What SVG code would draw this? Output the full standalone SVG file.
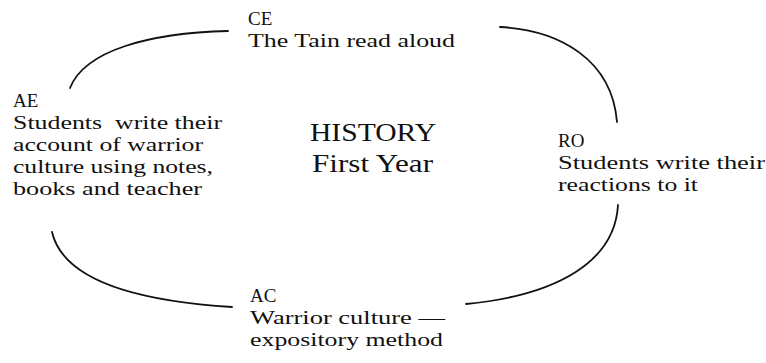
<svg xmlns="http://www.w3.org/2000/svg" width="766" height="363" viewBox="0 0 766 363">
<style>
text{font-family:"Liberation Serif","Times New Roman",serif;font-size:19px;fill:#111}
.title{font-size:26px}
.arc{fill:none;stroke:#111;stroke-width:1.8;stroke-linecap:round}
</style>
<rect width="766" height="363" fill="#fff"/>
<g id="connectors">
<path class="arc" d="M70,88 C85,50 150,33 228,31"/>
<path class="arc" d="M500,27 C560,30 612,60 617,122"/>
<path class="arc" d="M52,232 C62,275 120,300 232,307"/>
<path class="arc" d="M466,304 C560,295 615,260 618,205"/>
</g>
<g id="CE">
<text x="248" y="25">CE</text>
<text x="248" y="47" textLength="207" lengthAdjust="spacingAndGlyphs">The Tain read aloud</text>
</g>
<g id="AE">
<text x="13" y="107">AE</text>
<text x="13" y="129" textLength="209" lengthAdjust="spacingAndGlyphs" xml:space="preserve">Students  write their</text>
<text x="13" y="151" textLength="190" lengthAdjust="spacingAndGlyphs">account of warrior</text>
<text x="13" y="173" textLength="200" lengthAdjust="spacingAndGlyphs">culture using notes,</text>
<text x="13" y="195" textLength="189" lengthAdjust="spacingAndGlyphs">books and teacher</text>
</g>
<g id="center">
<text class="title" x="310" y="141" textLength="126" lengthAdjust="spacingAndGlyphs">HISTORY</text>
<text class="title" x="312" y="172" textLength="121" lengthAdjust="spacingAndGlyphs">First Year</text>
</g>
<g id="RO">
<text x="558" y="147">RO</text>
<text x="558" y="169" textLength="207" lengthAdjust="spacingAndGlyphs">Students write their</text>
<text x="558" y="191" textLength="140" lengthAdjust="spacingAndGlyphs">reactions to it</text>
</g>
<g id="AC">
<text x="250" y="302">AC</text>
<text x="250" y="324" textLength="195" lengthAdjust="spacingAndGlyphs">Warrior culture —</text>
<text x="250" y="346" textLength="193" lengthAdjust="spacingAndGlyphs">expository method</text>
</g>
</svg>
